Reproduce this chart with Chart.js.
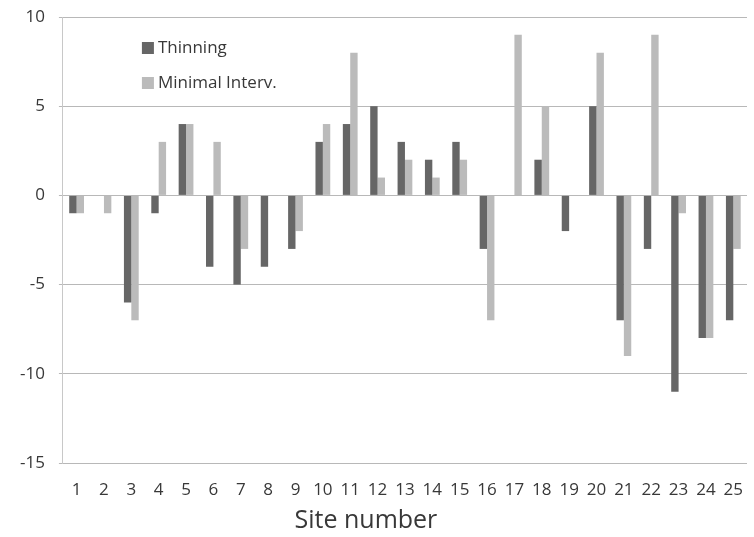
<!DOCTYPE html>
<html>
<head>
<meta charset="utf-8">
<script src="https://cdn.jsdelivr.net/npm/chart.js@4"></script>
<style>
  html, body { margin: 0; padding: 0; background: #fff; }
  #wrap { width: 754px; height: 537px; }
</style>
</head>
<body>
<div id="wrap"><canvas id="chart"></canvas></div>
<script>
"use strict";

// data
let sites = ['1','2','3','4','5','6','7','8','9','10','11','12','13','14','15','16','17','18','19','20','21','22','23','24','25'];
let thinning = [-1, 0, -6, -1, 4, -4, -5, -4, -3, 3, 4, 5, 3, 2, 3, -3, 0, 2, -2, 5, -7, -3, -11, -8, -7];
let minimal = [-1, -1, -7, 3, 4, 3, -3, 0, -2, 4, 8, 1, 2, 1, 2, -7, 9, 5, 0, 8, -9, 9, -1, -8, -3];
let yTicks = [-15, -10, -5, 0, 5, 10];
let xTitle = 'Site number';

const font = '"Open Sans", "Liberation Sans", sans-serif';

// legend sits inside the plot, top left, stacked;
// the x title is drawn here too because it sits left of the plot centre
const extras = {
  id: 'extras',
  afterDraw(chart) {
    const ctx = chart.ctx;
    const x = chart.chartArea.left + 79;
    let y = chart.chartArea.top + 31;
    ctx.save();
    ctx.font = '17px ' + font;
    ctx.textBaseline = 'middle';
    for (const ds of chart.data.datasets) {
      ctx.fillStyle = ds.backgroundColor;
      ctx.fillRect(x, y - 6, 12, 12);
      ctx.fillStyle = '#383838';
      ctx.fillText(ds.label, x + 16, y);
      y += 35;
    }
    ctx.font = '25px ' + font;
    ctx.textAlign = 'center';
    ctx.fillText(xTitle, chart.chartArea.left + 303, chart.height - 16);
    ctx.restore();
  }
};

new Chart(document.getElementById('chart'), {
  type: 'bar',
  data: {
    labels: sites,
    datasets: [{
      label: 'Thinning',
      data: thinning,
      backgroundColor: '#666666'
    }, {
      label: 'Minimal Interv.',
      data: minimal,
      backgroundColor: '#bbbbbb'
    }]
  },
  options: {
    responsive: true,
    maintainAspectRatio: false,
    animation: false,
    layout: { padding: { left: 6, right: 7, top: 0, bottom: 0 } },
    datasets: {
      bar: { categoryPercentage: 0.54, barPercentage: 1.0 }
    },
    plugins: {
      legend: { display: false },
      tooltip: { enabled: false }
    },
    scales: {
      x: {
        grid: { display: false },
        border: { display: false },
        afterFit(axis) { axis.height = 74; },
        ticks: { color: '#383838', font: { family: font, size: 17 }, maxRotation: 0, autoSkip: false, padding: 9 }
      },
      y: {
        min: -15,
        max: 10,
        afterBuildTicks(axis) { axis.ticks = yTicks.map(v => ({ value: v })); },
        // tick padding would otherwise push the plot top down
        afterFit(axis) { axis.paddingTop = 17; },
        grid: { color: '#b8b8b8', lineWidth: 1, tickLength: 4 },
        border: { display: true, color: '#c8c8c8' },
        ticks: { color: '#383838', font: { family: font, size: 17 }, padding: 14 }
      }
    }
  },
  plugins: [extras]
});
</script>
</body>
</html>
